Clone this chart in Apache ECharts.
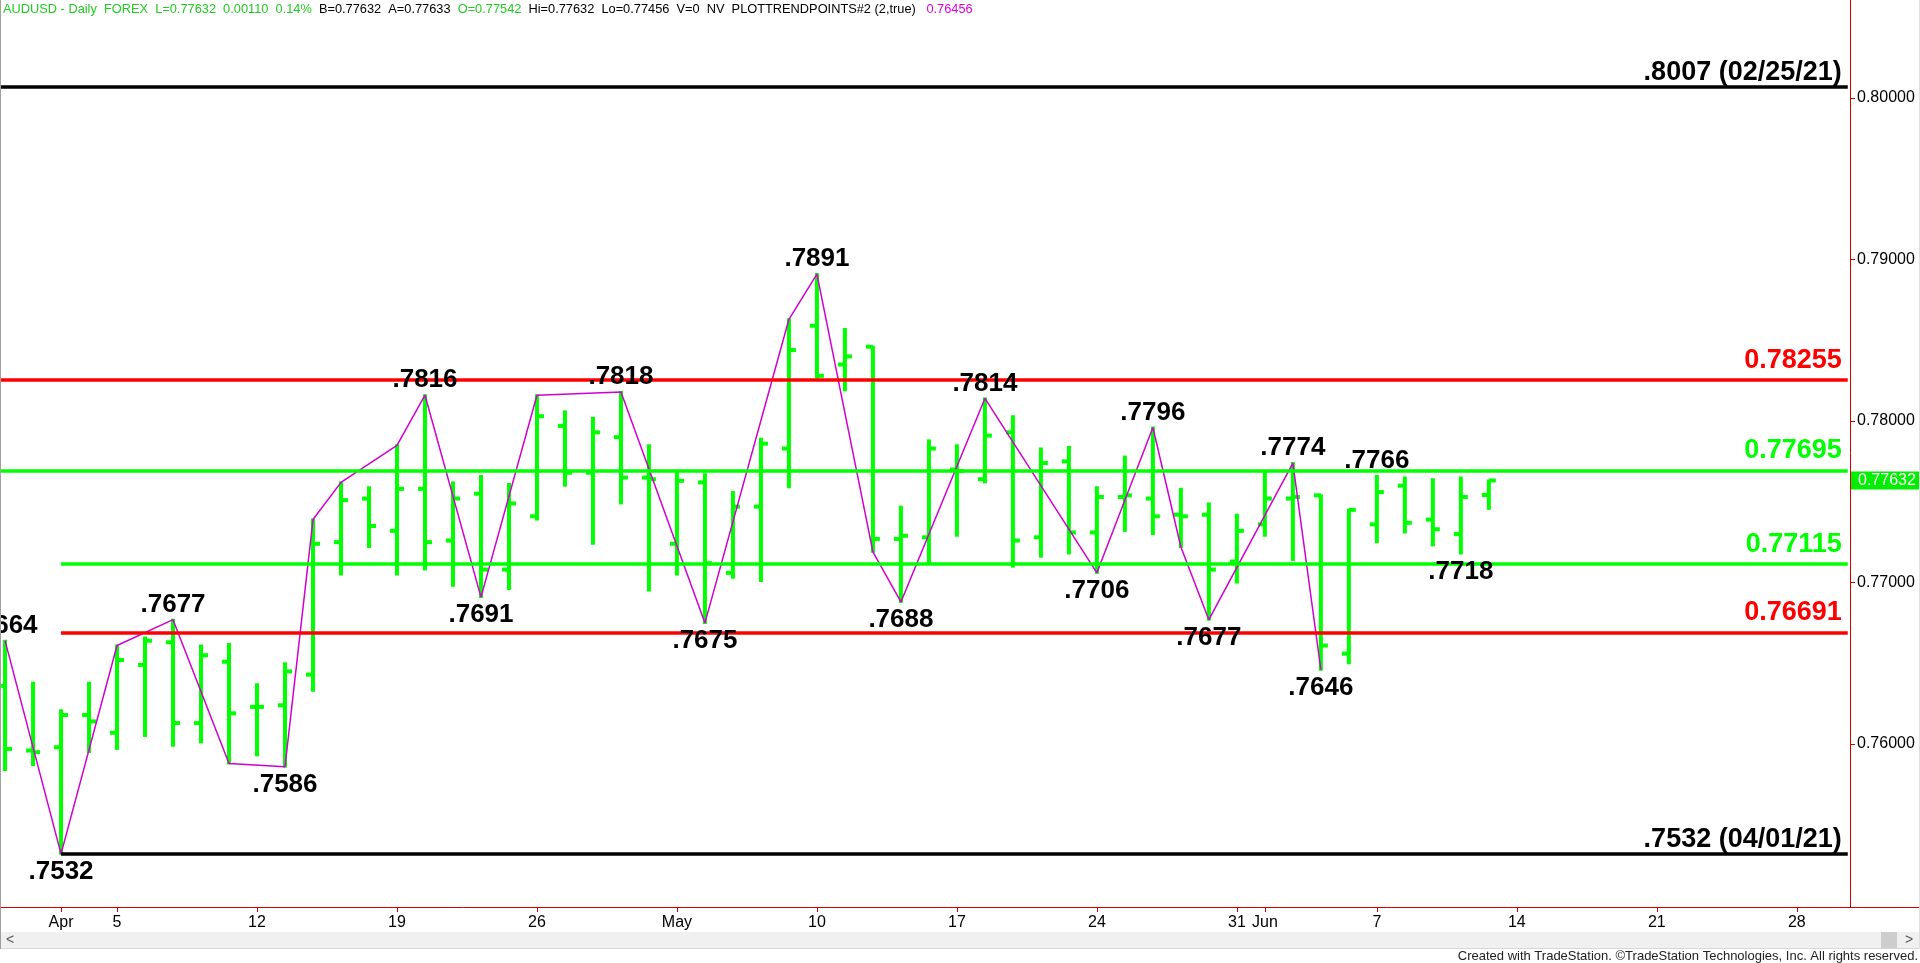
<!DOCTYPE html>
<html><head><meta charset="utf-8">
<script src="https://cdn.jsdelivr.net/npm/echarts@6/dist/echarts.min.js"></script>
<style>html,body{margin:0;padding:0;background:#fff;overflow:hidden}#c{width:1920px;height:963px}</style>
</head><body><div id="c"></div>
<script>
// ---------- data ----------
const dates = ['2021-03-30','2021-03-31','2021-04-01','2021-04-02','2021-04-05','2021-04-06','2021-04-07','2021-04-08','2021-04-09','2021-04-12','2021-04-13','2021-04-14','2021-04-15','2021-04-16','2021-04-19','2021-04-20','2021-04-21','2021-04-22','2021-04-23','2021-04-26','2021-04-27','2021-04-28','2021-04-29','2021-04-30','2021-05-03','2021-05-04','2021-05-05','2021-05-06','2021-05-07','2021-05-10','2021-05-11','2021-05-12','2021-05-13','2021-05-14','2021-05-17','2021-05-18','2021-05-19','2021-05-20','2021-05-21','2021-05-24','2021-05-25','2021-05-26','2021-05-27','2021-05-28','2021-05-31','2021-06-01','2021-06-02','2021-06-03','2021-06-04','2021-06-07','2021-06-08','2021-06-09','2021-06-10','2021-06-11'];
const open  = [.7636,.7596,.7598,.7618,.7607,.7649,.7663,.7613,.7651,.7623,.7624,.7643,.7725,.7752,.7732,.7758,.7726,.7755,.7708,.7741,.7797,.7768,.7790,.7765,.7724,.7762,.7706,.7747,.7783,.7859,.7835,.7846,.7727,.7728,.7770,.7764,.7793,.7728,.7775,.7731,.7753,.7752,.7742,.7742,.7713,.7736,.7752,.7754,.7656,.7736,.7760,.7739,.7730,.77542];
const high  = [.7664,.7638,.7621,.7638,.7661,.7666,.7677,.7661,.7662,.7637,.7650,.7739,.7762,.7759,.7785,.7816,.7762,.7766,.7761,.7816,.7806,.7802,.7818,.7785,.7768,.7767,.7756,.7789,.7863,.7891,.7857,.7846,.7747,.7788,.7785,.7814,.7803,.7783,.7784,.7759,.7778,.7796,.7758,.7749,.7742,.7769,.7774,.7754,.7745,.7766,.7765,.7764,.7765,.77632];
const low   = [.7584,.7587,.7532,.7595,.7597,.7605,.7599,.7601,.7588,.7593,.7586,.7633,.7705,.7722,.7705,.7708,.7698,.7691,.7696,.7739,.7760,.7724,.7749,.7695,.7705,.7675,.7703,.7701,.7759,.7827,.7819,.7719,.7688,.7712,.7729,.7762,.7710,.7716,.7718,.7706,.7732,.7730,.7722,.7677,.7700,.7729,.7714,.7646,.7650,.7725,.7731,.7723,.7718,.77456];
const close = [.7597,.7595,.7618,.7614,.7652,.7664,.7613,.7655,.7619,.7623,.7645,.7724,.7751,.7735,.7758,.7725,.7752,.7708,.7749,.7803,.7768,.7793,.7765,.7764,.7763,.7712,.7747,.7786,.7844,.7828,.7840,.7727,.7729,.7783,.7769,.7791,.7726,.7774,.7731,.7753,.7754,.7741,.7741,.7708,.7732,.7752,.7753,.7661,.7745,.7756,.7737,.7733,.7753,.77632];

const zigzagDates = ['2021-03-30','2021-04-01','2021-04-05','2021-04-07','2021-04-09','2021-04-13','2021-04-14','2021-04-15','2021-04-19','2021-04-20','2021-04-22','2021-04-26','2021-04-29','2021-05-04','2021-05-07','2021-05-10','2021-05-12','2021-05-13','2021-05-18','2021-05-24','2021-05-26','2021-05-27','2021-05-28','2021-06-02','2021-06-03'];
const zigzagSides = ['H','L','H','H','L','L','H','H','H','H','L','H','H','L','H','H','L','L','H','L','H','L','L','H','L'];

const pivotHighDates = ['2021-03-30','2021-04-07','2021-04-20','2021-04-29','2021-05-10','2021-05-18','2021-05-26','2021-06-02','2021-06-07'];
const pivotLowDates  = ['2021-04-01','2021-04-13','2021-04-22','2021-05-04','2021-05-13','2021-05-24','2021-05-28','2021-06-03','2021-06-10'];

const levelValues = [0.8007, 0.78255, 0.77695, 0.77115, 0.76691, 0.7532];
const levelLabels = ['.8007 (02/25/21)', '0.78255', '0.77695', '0.77115', '0.76691', '.7532 (04/01/21)'];
const levelStartDates = ['2021-02-25','2021-02-25','2021-02-25','2021-04-01','2021-04-01','2021-04-01'];
const levelKinds = ['ref','fib','mid','mid','fib','ref'];

const yTickValues = [0.76, 0.77, 0.78, 0.79, 0.80];
const xTickDates  = ['2021-04-01','2021-04-05','2021-04-12','2021-04-19','2021-04-26','2021-05-03','2021-05-10','2021-05-17','2021-05-24','2021-05-31','2021-06-01','2021-06-07','2021-06-14','2021-06-21','2021-06-28'];
const xTickLabels = ['Apr','5','12','19','26','May','10','17','24','31','Jun','7','14','21','28'];

const header = {symbol:'AUDUSD', change:'0.00110', pct:'0.14%', bid:'0.77632', ask:'0.77633', vol:'0', study:'PLOTTRENDPOINTS#2 (2,true)', studyVal:'0.76456'};

// ---------- helpers ----------
function parseD(s){const p=s.split('-').map(Number);return Date.UTC(p[0],p[1]-1,p[2]);}
const day0 = parseD(dates[0]);
function tradingIndex(s){
  const t = parseD(s);
  let n = 0, d = day0, step = t >= day0 ? 1 : -1;
  while (d !== t){ d += step*86400000; const wd = new Date(d).getUTCDay(); if (wd!==0 && wd!==6) n += step; }
  return n;
}
const X_MIN = -0.18, X_MAX = 65.9;
const Y_MIN = 0.74991, Y_MAX = 0.80607;
const FONT = 'Arial, "Liberation Sans", sans-serif';
const BAR_GREEN = '#00ff00';
const kindColor = {ref:'#000000', fib:'#ff0000', mid:'#00ff00'};
const kindDist  = {ref:1, fib:6, mid:6};

const ohlc = dates.map((d,i)=>[i, open[i], high[i], low[i], close[i]]);
const zigzag = zigzagDates.map((d,k)=>{const i=dates.indexOf(d);return [i, zigzagSides[k]==='H'?high[i]:low[i]];});
const pivots = pivotHighDates.map(d=>{const i=dates.indexOf(d);return [i, high[i], 1];})
  .concat(pivotLowDates.map(d=>{const i=dates.indexOf(d);return [i, low[i], -1];}));
const fmtPivot = v => '.' + v.toFixed(4).slice(2);
const xTickIdx = xTickDates.map(tradingIndex);

const levelLines = levelValues.map((v,k)=>{
  const c = kindColor[levelKinds[k]];
  return [
    {coord:[Math.max(X_MIN, tradingIndex(levelStartDates[k])), v],
     lineStyle:{color:c, width:3.5, type:'solid'},
     label:{show:true, position:'insideEndTop', formatter:levelLabels[k], color:c,
            fontSize:27, fontWeight:'bold', fontFamily:FONT, distance:[6, kindDist[levelKinds[k]]]}},
    {coord:[X_MAX - 0.08, v]}
  ];
});

const last = dates.length-1;
const f5 = v => v.toFixed(5);

const chart = echarts.init(document.getElementById('c'), null, {renderer:'canvas'});
const option = {
  animation:false,
  backgroundColor:'#ffffff',
  grid:{left:0, right:70, top:0, bottom:56, containLabel:false},
  xAxis:{
    type:'value', min:X_MIN, max:X_MAX, position:'bottom',
    axisLine:{show:true, lineStyle:{color:'#d40000', width:1}},
    axisTick:{show:true, customValues:xTickIdx, length:5, lineStyle:{color:'#d40000'}},
    axisLabel:{show:true, customValues:xTickIdx, margin:8, fontSize:16, color:'#000', fontFamily:FONT,
      formatter:(v)=>{const k=xTickIdx.indexOf(Math.round(v));return k>=0?xTickLabels[k]:'';}},
    splitLine:{show:false}
  },
  yAxis:{
    type:'value', min:Y_MIN, max:Y_MAX, position:'right', scale:true,
    axisLine:{show:true, onZero:false, lineStyle:{color:'#d40000', width:1}},
    axisTick:{show:true, customValues:yTickValues, length:5, lineStyle:{color:'#d40000'}},
    axisLabel:{show:true, customValues:yTickValues, margin:7, fontSize:16, color:'#000', fontFamily:FONT,
      formatter:(v)=>v.toFixed(5)},
    splitLine:{show:false}
  },
  series:[
    {
      type:'line', data:[], silent:true, z:2,
      markLine:{silent:true, symbol:['none','none'], animation:false, data:levelLines}
    },
    {
      type:'custom', z:3, clip:false, silent:true,
      data:ohlc, encode:{x:0, y:[1,2,3,4]},
      renderItem:(params, api)=>{
        const x = api.value(0);
        const o = api.coord([x, api.value(1)]);
        const h = api.coord([x, api.value(2)]);
        const l = api.coord([x, api.value(3)]);
        const c = api.coord([x, api.value(4)]);
        const st = {stroke:BAR_GREEN, lineWidth:4};
        return {type:'group', children:[
          {type:'line', shape:{x1:h[0], y1:h[1]-1, x2:l[0], y2:l[1]+1}, style:st},
          {type:'line', shape:{x1:o[0]-7, y1:o[1], x2:o[0], y2:o[1]}, style:st},
          {type:'line', shape:{x1:c[0], y1:c[1], x2:c[0]+7, y2:c[1]}, style:st}
        ]};
      }
    },
    {
      type:'line', data:zigzag, z:4, symbol:'none', silent:true,
      lineStyle:{color:'#d000d0', width:1.5}
    },
    {
      type:'custom', z:5, clip:false, silent:true,
      data:pivots, encode:{x:0, y:1},
      renderItem:(params, api)=>{
        const p = api.coord([api.value(0), api.value(1)]);
        const up = api.value(2) > 0;
        return {type:'text', x:p[0], y: up ? p[1]-15 : p[1]+18,
          style:{text:fmtPivot(api.value(1)), fill:'#000000', align:'center', verticalAlign:'middle',
            font:'bold 26px ' + FONT}};
      }
    }
  ]
};
chart.setOption(option);

// price tag and chrome
const tagY = chart.convertToPixel({yAxisIndex:0}, close[last]);
const hdrText =
  '{g|' + header.symbol + ' - Daily  FOREX  L=' + f5(close[last]) + '  ' + header.change + '  ' + header.pct + '}  ' +
  '{k|B=' + header.bid + '  A=' + header.ask + '}  ' +
  '{g|O=' + f5(open[last]) + '}  ' +
  '{k|Hi=' + f5(high[last]) + '  Lo=' + f5(low[last]) + '  V=' + header.vol + '  NV  ' + header.study + '}   ' +
  '{m|' + header.studyVal + '}';
const HF = 12.8;
chart.setOption({
  graphic:[
    {type:'text', left:3, top:3, z:10, style:{text:hdrText, fontSize:HF, fontFamily:FONT,
      rich:{g:{fill:'#22cc22', fontSize:HF, fontFamily:FONT}, k:{fill:'#000', fontSize:HF, fontFamily:FONT}, m:{fill:'#dd00dd', fontSize:HF, fontFamily:FONT}}}},
    {type:'rect', shape:{x:1851, y:tagY-9, width:68, height:18}, style:{fill:'#00ee00'}, z:10},
    {type:'text', x:1858, y:tagY, z:11, style:{text:f5(close[last]), fill:'#ffffff', fontSize:16, fontFamily:FONT, verticalAlign:'middle'}},
    {type:'line', shape:{x1:1850, y1:907.5, x2:1919, y2:907.5}, style:{stroke:'#d40000', lineWidth:1}, z:10},
    {type:'rect', shape:{x:0, y:932, width:1920, height:16}, style:{fill:'#f0f0f0'}, z:10},
    {type:'rect', shape:{x:1881, y:932, width:16, height:16}, style:{fill:'#cdcdcd'}, z:11},
    {type:'text', x:6, y:940, z:11, style:{text:'<', fill:'#555', fontSize:14, fontFamily:FONT, verticalAlign:'middle'}},
    {type:'text', x:1905, y:940, z:11, style:{text:'>', fill:'#555', fontSize:14, fontFamily:FONT, verticalAlign:'middle'}},
    {type:'line', shape:{x1:0, y1:948.5, x2:1920, y2:948.5}, style:{stroke:'#d8d8d8', lineWidth:1}, z:11},
    {type:'line', shape:{x1:0.5, y1:0, x2:0.5, y2:949}, style:{stroke:'#a0a0a0', lineWidth:1}, z:11},
    {type:'line', shape:{x1:1919.5, y1:0, x2:1919.5, y2:949}, style:{stroke:'#e0e0e0', lineWidth:1}, z:11},
    {type:'text', right:2, top:950, z:11, style:{text:'Created with TradeStation. \u00A9TradeStation Technologies, Inc. All rights reserved.', fill:'#222', fontSize:13, fontFamily:FONT}}
  ]
});
</script></body></html>
